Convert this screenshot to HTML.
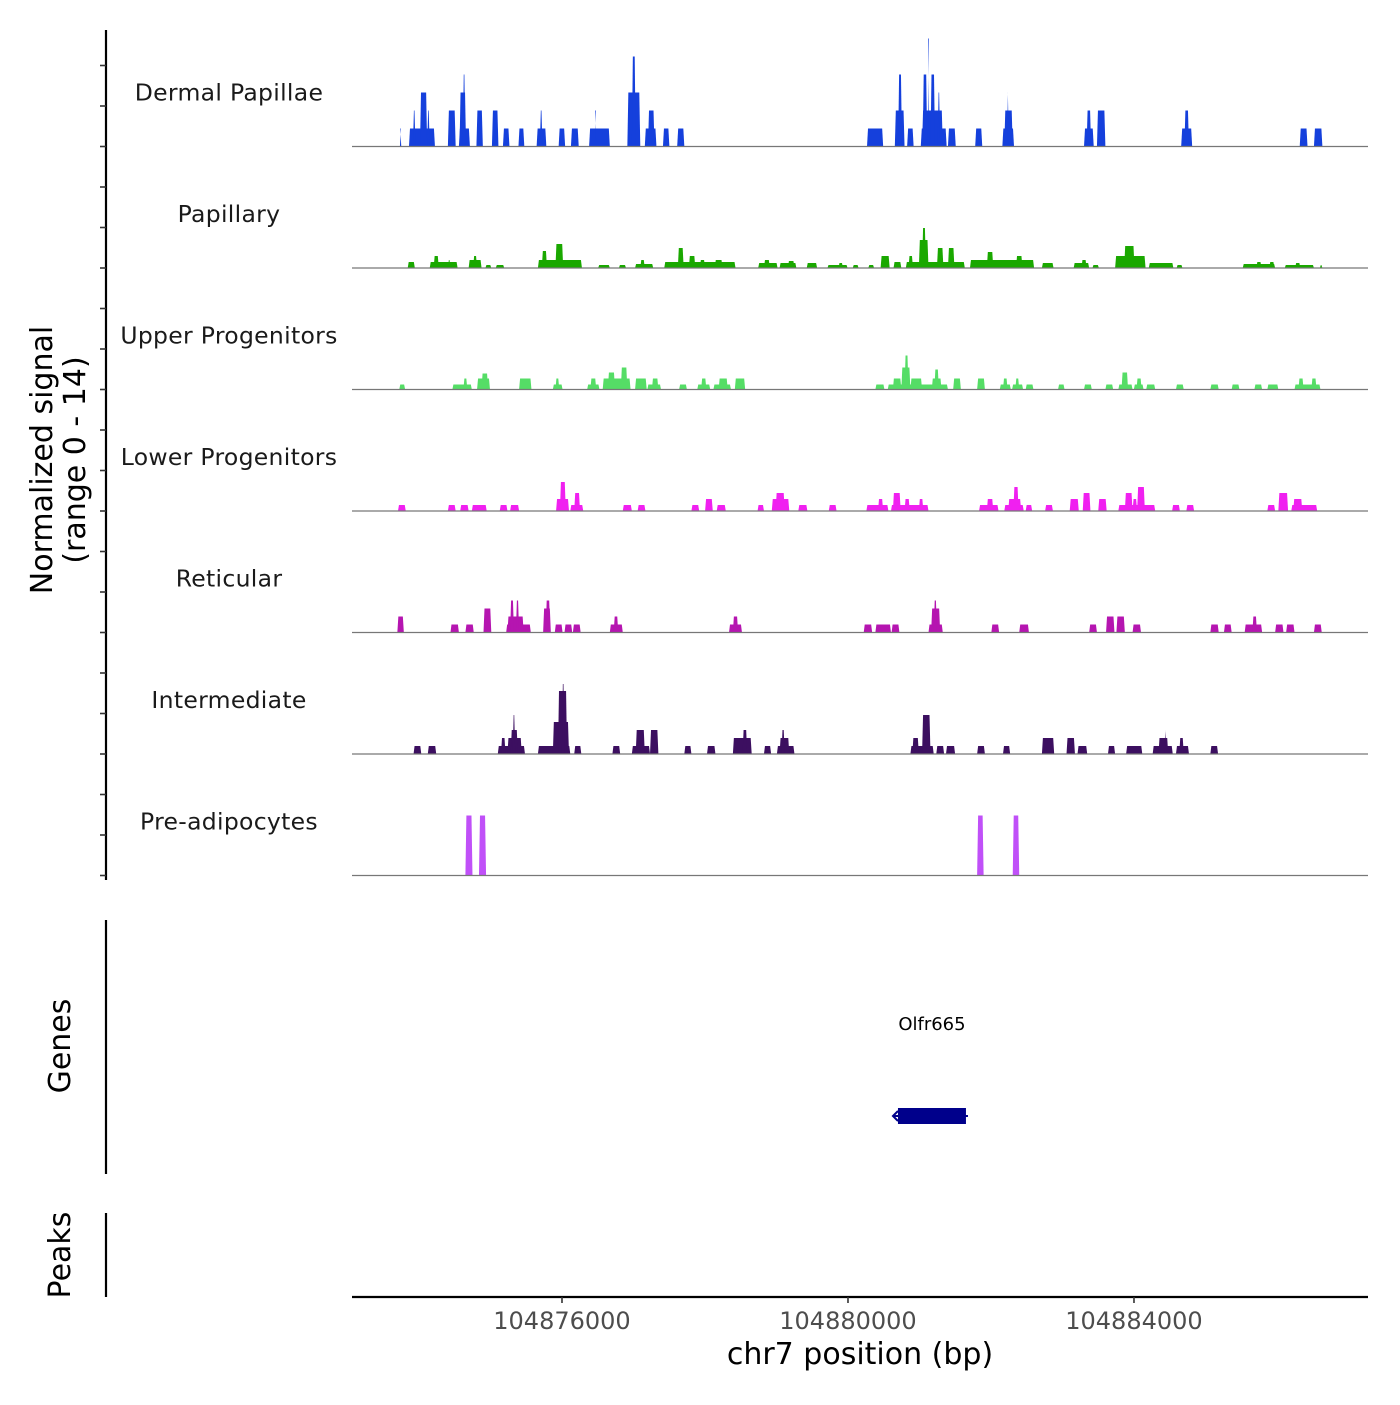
<!DOCTYPE html>
<html><head><meta charset="utf-8"><style>
body{margin:0;background:#fff;}
svg text{font-family:"DejaVu Sans","Liberation Sans",sans-serif;}
</style></head><body>
<svg id="chart" width="1400" height="1400" viewBox="0 0 1400 1400" xmlns="http://www.w3.org/2000/svg"></svg>
<script>
const regionStart = 104873063;
const regionEnd = 104887273;
const trackNames = ["Dermal Papillae","Papillary","Upper Progenitors","Lower Progenitors","Reticular","Intermediate","Pre-adipocytes"];
const trackColors = ["#1540dc","#1aa800","#55dd66","#f020f0","#b515b0","#3c0f60","#c050f8"];
const xTicks = [104876000,104880000,104884000];
const yMax = 14;
// segments: [startOffsetBp, endOffsetBp, value]
const dermalPapillae = [[670,689,2.07],[797,1160,2.07],[852,888,4.15],[951,1051,6.22],[1051,1087,4.15],[1341,1450,4.15],[1495,1649,2.07],[1504,1595,6.22],[1549,1586,8.29],[1740,1830,4.15],[1957,2048,4.15],[2111,2202,2.07],[2328,2410,2.07],[2582,2718,2.07],[2627,2664,4.15],[2890,2981,2.07],[3062,3171,2.07],[3316,3606,2.07],[3398,3416,4.15],[3851,4032,6.22],[3914,3968,10.37],[4095,4258,2.07],[4140,4231,4.15],[4349,4439,2.07],[4548,4648,2.07],[7203,7429,2.07],[7592,7728,4.15],[7638,7692,8.29],[7764,7855,2.07],[7955,8317,2.07],[7973,8263,4.15],[7982,8045,8.29],[8054,8072,12.44],[8091,8154,8.29],[8190,8226,6.22],[8335,8444,2.07],[8716,8815,2.07],[9096,9259,2.07],[9123,9241,4.15],[9160,9187,6.22],[10238,10374,2.07],[10274,10337,4.15],[10419,10537,4.15],[11597,11751,2.07],[11642,11706,4.15],[13255,13364,2.07],[13454,13572,2.07]];
const papillary = [[779,879,0.69],[1087,1477,0.69],[1142,1214,1.38],[1341,1377,0.92],[1631,1812,0.92],[1694,1749,1.38],[1866,1948,0.35],[2011,2129,0.35],[2600,3216,0.92],[2655,2727,1.96],[2845,2954,2.76],[3080,3171,0.92],[3443,3606,0.35],[3733,3832,0.35],[3959,4213,0.46],[4032,4095,0.92],[4367,5364,0.69],[4557,4639,2.3],[4711,4802,1.38],[4865,4938,0.92],[5074,5182,0.92],[5681,5952,0.58],[5762,5844,0.92],[5980,6215,0.58],[6097,6188,0.8],[6360,6505,0.58],[6650,6931,0.35],[6804,6867,0.58],[7003,7085,0.35],[7221,7302,0.35],[7393,7520,1.38],[7574,7683,0.69],[7746,8571,0.69],[7783,7846,1.38],[7928,8063,3.23],[7973,8027,4.61],[8181,8272,2.3],[8335,8426,2.3],[8643,9540,0.92],[8879,8969,1.84],[9287,9377,1.38],[9649,9812,0.58],[10093,10310,0.58],[10202,10274,0.92],[10356,10446,0.35],[10673,11099,1.38],[10800,10944,2.53],[11144,11488,0.58],[11533,11615,0.35],[12458,12911,0.46],[12648,12720,0.69],[12829,12901,0.69],[13046,13454,0.35],[13191,13264,0.58],[13536,13572,0.35]];
const upperProgenitors = [[661,743,0.58],[1404,1676,0.58],[1558,1613,1.27],[1749,1930,1.27],[1812,1903,1.84],[2337,2510,1.27],[2809,2945,0.58],[2845,2899,1.27],[3289,3461,0.58],[3334,3416,1.27],[3506,3896,1.27],[3579,3678,1.96],[3760,3851,2.53],[3959,4122,1.27],[4131,4322,0.58],[4195,4285,1.27],[4575,4684,0.58],[4829,5010,0.58],[4883,4956,1.27],[5055,5300,0.58],[5128,5255,1.27],[5354,5499,1.27],[7320,7447,0.58],[7493,8335,0.58],[7565,7683,1.27],[7683,7810,2.53],[7728,7783,3.92],[7810,7973,1.27],[8109,8245,1.27],[8145,8208,2.3],[8408,8516,1.27],[8743,8852,1.27],[9060,9214,0.58],[9105,9169,1.27],[9232,9386,0.58],[9277,9332,1.27],[9422,9531,0.58],[9875,9966,0.58],[10238,10347,0.58],[10537,10646,0.58],[10718,10917,0.58],[10763,10854,1.96],[10935,11071,0.58],[10972,11044,1.27],[11108,11234,0.58],[11524,11633,0.58],[12005,12122,0.58],[12303,12412,0.58],[12621,12729,0.58],[12802,12956,0.58],[13182,13545,0.58],[13237,13309,1.27],[13418,13490,1.27]];
const lowerProgenitors = [[643,752,0.69],[1341,1450,0.69],[1513,1631,0.69],[1676,1884,0.69],[2066,2174,0.69],[2211,2337,0.69],[2854,3035,1.38],[2908,2990,3.34],[3053,3234,0.69],[3108,3189,2.07],[3787,3914,0.69],[3995,4104,0.69],[4747,4856,0.69],[4938,5046,1.38],[5101,5228,0.69],[5672,5762,0.69],[5871,6116,1.38],[5925,6052,2.07],[6242,6369,0.69],[6668,6777,0.69],[7194,7502,0.69],[7357,7429,1.38],[7538,8063,0.69],[7565,7674,2.07],[7728,7801,1.38],[7928,7991,1.38],[8770,9042,0.69],[8879,8969,1.38],[9123,9395,0.69],[9178,9359,1.38],[9250,9323,2.76],[9422,9513,0.69],[9694,9803,0.69],[10038,10165,1.38],[10220,10328,2.07],[10437,10555,1.38],[10718,11234,0.69],[10809,10917,2.07],[10917,10981,1.38],[10981,11089,2.76],[11470,11579,0.69],[11669,11778,0.69],[12802,12911,0.69],[12956,13092,2.07],[13137,13499,0.69],[13164,13291,1.38]];
const reticular = [[634,725,1.84],[1377,1495,0.92],[1586,1703,0.92],[1839,1948,2.76],[2156,2501,0.92],[2174,2401,1.84],[2211,2265,3.69],[2292,2337,3.69],[2673,2781,2.76],[2709,2772,3.69],[2836,2945,0.92],[2972,3080,0.92],[3089,3198,0.92],[3606,3787,0.92],[3660,3724,1.84],[5273,5454,0.92],[5327,5400,1.84],[7157,7275,0.92],[7320,7538,0.92],[7547,7656,0.92],[8063,8263,0.92],[8100,8226,2.76],[8136,8181,3.69],[8942,9051,0.92],[9332,9468,0.92],[10310,10419,0.92],[10546,10664,1.84],[10691,10809,1.84],[10917,11035,0.92],[12005,12122,0.92],[12195,12303,0.92],[12485,12729,0.92],[12593,12657,1.84],[12911,13028,0.92],[13065,13182,0.92],[13454,13563,0.92]];
const intermediate = [[861,969,0.92],[1060,1178,0.92],[2039,2419,0.92],[2084,2147,1.84],[2174,2374,1.84],[2220,2319,2.76],[2247,2283,4.49],[2600,3053,0.92],[2809,3035,3.69],[2881,3008,7.26],[2935,2972,8.06],[3108,3207,0.92],[3642,3751,0.92],[3914,4168,0.92],[3968,4095,2.76],[4168,4285,2.76],[4648,4747,0.92],[4965,5083,0.92],[5327,5590,1.84],[5463,5527,2.76],[5762,5862,0.92],[5943,6188,0.92],[5980,6116,1.84],[6007,6052,2.76],[7810,8136,0.92],[7837,7928,1.84],[7973,8091,4.49],[8172,8281,0.92],[8308,8435,0.92],[8743,8852,0.92],[9105,9205,0.92],[9649,9821,1.84],[9993,10111,1.84],[10147,10283,0.92],[10573,10673,0.92],[10827,11053,0.92],[11198,11479,0.92],[11280,11416,1.84],[11361,11388,2.76],[11524,11706,0.92],[11570,11633,1.84],[12005,12113,0.92]];
const preAdipocytes = [[1586,1685,6.91],[1776,1875,6.91],[8743,8834,6.91],[9241,9332,6.91]];
const trackData = [dermalPapillae,papillary,upperProgenitors,lowerProgenitors,reticular,intermediate,preAdipocytes];
const geneName = "Olfr665";
const geneStart = 104880699;
const geneEnd = 104881650;

const svg = document.getElementById('chart');
const NS = 'http://www.w3.org/2000/svg';
const X0 = 352, X1 = 1368;
const xScale = bp => X0 + (bp - regionStart) / (regionEnd - regionStart) * (X1 - X0);
const trackTop = 25, trackH = 121.5;
const yScale = (i, v) => trackTop + (i + 1) * trackH - v / yMax * trackH;
function mk(tag, attrs, parent) { const e = document.createElementNS(NS, tag); for (const k in attrs) e.setAttribute(k, attrs[k]); (parent || svg).appendChild(e); return e; }

const ax = mk('line', {x1:106,y1:30,x2:106,y2:880,stroke:'#000','stroke-width':2.2});


for (let i = 0; i < 7; i++) {
  for (let k = 0; k < 3; k++) {
    const y = yScale(i, 0) - k * trackH / 3;
    const t = mk('line', {x1:100,y1:y,x2:106,y2:y,stroke:'#333','stroke-width':1.6});
    
    
  }
}
const yt = mk('text', {x:0,y:0,'font-size':30,'text-anchor':'middle',fill:'#000',transform:'translate(52,460) rotate(-90)'});


yt.innerHTML = '<tspan x="0" dy="0">Normalized signal</tspan><tspan x="0" dy="33">(range 0 - 14)</tspan>';

for (let i = 0; i < 7; i++) {
  const g = mk('g', {});
  
  
  const lbl = mk('text', {x:229,y:yScale(i,0)-46,'font-size':23.5,'text-anchor':'middle',fill:'#1a1a1a','letter-spacing':'0.3'}, g);
  lbl.textContent = trackNames[i];
  
  
  for (const s of trackData[i]) {
    const xa = xScale(regionStart + s[0]), xb = xScale(regionStart + s[1]);
    const yb = yScale(i, 0), yv = yScale(i, s[2]);
    const p = mk('polygon', {points:`${xa},${yb} ${xa+1},${yv} ${xb-1},${yv} ${xb},${yb}`, fill:trackColors[i]}, g);
    
    
  }
  const bl = mk('line', {x1:X0,y1:yScale(i,0),x2:X1,y2:yScale(i,0),stroke:'#777','stroke-width':1.2}, g);
  
  
}

const gax = mk('line', {x1:106,y1:920,x2:106,y2:1174,stroke:'#000','stroke-width':2.2});


const gt = mk('text', {x:0,y:0,'font-size':30,'text-anchor':'middle',fill:'#000',transform:'translate(70,1046) rotate(-90)'});
gt.textContent = 'Genes';


const gx0 = xScale(geneStart), gx1 = xScale(geneEnd);
const gl = mk('line', {x1:gx0-4,y1:1116,x2:gx1+2,y2:1116,stroke:'#00008b','stroke-width':2});


const gr = mk('rect', {x:gx0,y:1108,width:gx1-gx0,height:16,fill:'#00008b'});


const ga = mk('path', {d:`M${gx0} 1111 L${gx0-5} 1116 L${gx0} 1121`,stroke:'#00008b','stroke-width':2,fill:'none'});


const gn = mk('text', {x:(gx0+gx1)/2,y:1030,'font-size':18,'text-anchor':'middle',fill:'#000'});
gn.textContent = geneName;



const pax = mk('line', {x1:106,y1:1213,x2:106,y2:1297,stroke:'#000','stroke-width':2.2});


const pt = mk('text', {x:0,y:0,'font-size':30,'text-anchor':'middle',fill:'#000',transform:'translate(70,1255) rotate(-90)'});
pt.textContent = 'Peaks';



const xa = mk('line', {x1:X0,y1:1297,x2:X1,y2:1297,stroke:'#000','stroke-width':2.2});


for (const t of xTicks) {
  const x = xScale(t);
  const tl = mk('line', {x1:x,y1:1297,x2:x,y2:1303,stroke:'#333','stroke-width':1.6});
  
  
  const tx = mk('text', {x:x,y:1329,'font-size':24,'text-anchor':'middle',fill:'#4d4d4d'});
  tx.textContent = t;
  
  
}
const xt = mk('text', {x:860,y:1364,'font-size':30,'text-anchor':'middle',fill:'#000'});
xt.textContent = 'chr7 position (bp)';


</script>
</body></html>
